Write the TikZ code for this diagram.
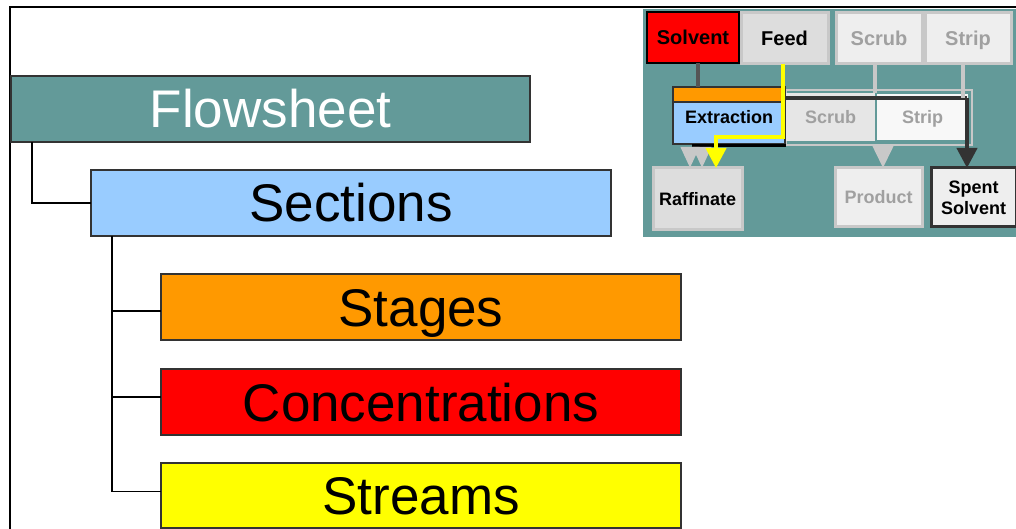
\documentclass[tikz,border=0pt]{standalone}
\usepackage{fontspec}
\setmainfont{Liberation Sans}
\usetikzlibrary{arrows.meta}
\definecolor{teal1}{HTML}{639A99}
\definecolor{lblue}{HTML}{99CCFF}
\definecolor{orng}{HTML}{FF9900}
\definecolor{yel}{HTML}{FFFF00}
\definecolor{ygray}{HTML}{C8C8C8}
\definecolor{g1}{HTML}{DDDDDD}
\definecolor{g2}{HTML}{EEEEEE}
\definecolor{g3}{HTML}{E6E6E6}
\definecolor{g4}{HTML}{F8F8F8}
\definecolor{txtg}{HTML}{A0A0A0}
\definecolor{dk}{HTML}{333333}
\definecolor{md}{HTML}{555555}
\tikzset{
  mainbox/.style={draw=dk, line width=1.5pt, minimum width=520pt, minimum height=66pt,
    inner sep=0pt, outer sep=0pt, font=\fontsize{53}{60}\selectfont, text height=38pt, text depth=0pt},
  tree/.style={draw=black, line width=1.3pt},
  ibase/.style={inner sep=0pt, outer sep=0pt, font=\bfseries\fontsize{18}{21}\selectfont, align=center},
  ibox/.style={ibase, text height=13pt, text depth=0pt},
  topbox/.style={ibox, font=\bfseries\fontsize{20}{22}\selectfont, text height=14.3pt},
  lightbox/.style={draw=ygray, line width=3pt},
  flow/.style={line width=4pt},
  bighead/.style={-{Triangle[width=20pt,length=20pt]}},
}
\begin{document}
\begin{tikzpicture}[x=1pt,y=-1pt]
\useasboundingbox (0,0) rectangle (1016,529);
\fill[white] (0,0) rectangle (1016,529);
% outer frame
\draw[line width=2pt] (10,529) -- (10,7) -- (1016,7);
% main tree
\node[mainbox, fill=teal1, text=white, minimum width=519pt] (fs) at (270.5,109) {Flowsheet};
\node[mainbox, fill=lblue] (sec) at (351,203) {Sections};
\node[mainbox, fill=orng] (stg) at (421,307) {Stages};
\node[mainbox, fill=red] (con) at (421,402) {Concentrations};
\node[mainbox, fill=yel, minimum height=65pt] (str) at (421,495.5) {Streams};
\draw[tree] ([xshift=21pt]fs.south west) |- (sec.west);
\draw[tree] ([xshift=21pt]sec.south west) |- ([yshift=-4pt]stg.west);
\draw[tree] ([xshift=21pt]sec.south west) |- ([yshift=5pt]con.west);
\draw[tree] ([xshift=21pt]sec.south west) |- ([yshift=4pt]str.west);
% inset
\fill[teal1] (643,9) rectangle (1016,237);
\node[topbox, draw=black, line width=1.5pt, fill=red, minimum width=92pt, minimum height=51pt] (solv) at (693,37.5) {Solvent};
\node[topbox, lightbox, fill=g1, minimum width=87pt, minimum height=51pt] (feed) at (784.5,38.5) {Feed};
\node[topbox, lightbox, fill=g2, text=txtg, minimum width=86pt, minimum height=51pt] (scr1) at (879,38.5) {Scrub};
\node[topbox, lightbox, fill=g2, text=txtg, minimum width=86pt, minimum height=51pt] (stp1) at (968,38.5) {Strip};
% middle group
\draw[ygray, line width=2pt] (786,90) rectangle (972,145);
\node[ibox, fill=g3, text=txtg, minimum width=89pt, minimum height=48pt] (scr2) at (830.5,117) {Scrub};
\node[ibox, fill=g4, text=txtg, minimum width=91pt, minimum height=46pt] (stp2) at (922.5,117) {Strip};
\node[ibox, draw=dk, line width=1.2pt, fill=lblue, minimum width=112pt, minimum height=42pt, anchor=north west, text height=13pt, text depth=12pt] (ext) at (673,102) {Extraction};
\node[draw=dk, line width=1.2pt, fill=orng, minimum width=112pt, minimum height=15pt, inner sep=0pt, outer sep=0pt, anchor=north west] (extbar) at (673,87) {};
\draw[black, line width=3pt] (692,145.5) -- (786,145.5);
% output boxes
\node[ibox, lightbox, fill=g1, minimum width=89pt, minimum height=62pt] (raff) at (697.5,199) {Raffinate};
\node[ibox, lightbox, fill=g2, text=txtg, minimum width=87pt, minimum height=59pt] (prod) at (878.5,197.5) {Product};
\node[ibase, draw=dk, line width=3pt, fill=g2, minimum width=85pt, minimum height=59pt] (spent) at (973.5,197.5) {Spent\\Solvent};
% flows
\coordinate (c1) at (967,98.5);
\draw[flow, dk] (extbar.east |- c1) -- (c1);
\draw[flow, dk, bighead] (c1) -- (spent.north -| c1);
\draw[flow, md] (solv.south -| 698,0) -- (extbar.north -| 698,0);
\draw[flow, ygray] (scr1.south -| 875,0) -- (scr2.north -| 875,0);
\draw[flow, ygray] (stp1.south -| 963,0) -- (c1 -| 963,0);
\draw[flow, ygray, -{Triangle[width=20pt,length=22pt]}] (883,144) -- (prod.north -| 883,0);
\draw[flow, ygray, -{Triangle[width=18pt,length=21pt]}] (690,147) -- (raff.north -| 690,0);
\draw[flow, ygray, -{Triangle[width=18pt,length=21pt]}] (702,147) -- (raff.north -| 702,0);
\coordinate (y1) at (783,137);
\coordinate (y2) at (716,137);
\draw[flow, yel, bighead] (feed.south -| y1) -- (y1) -- (y2) -- (raff.north -| y2);
\end{tikzpicture}
\end{document}
